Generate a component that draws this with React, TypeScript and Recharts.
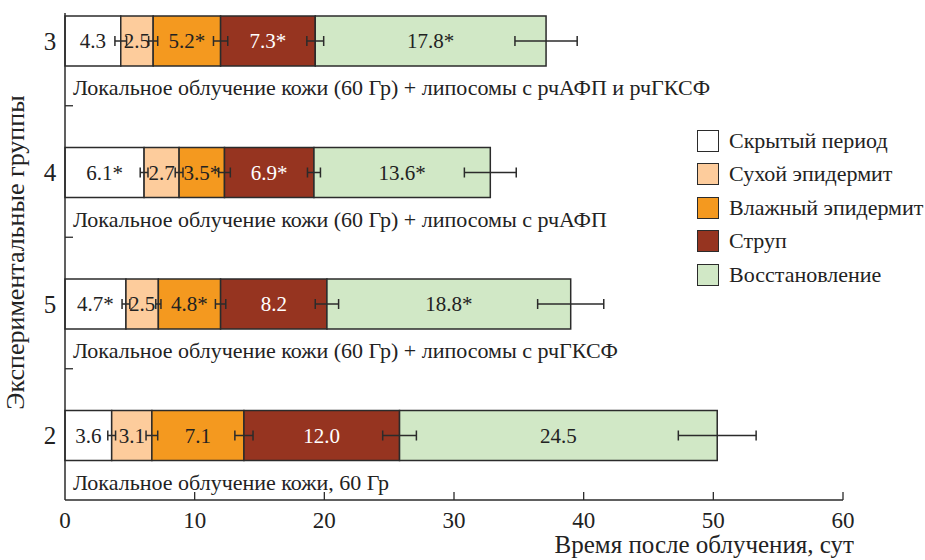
import { Bar, BarChart, ErrorBar, LabelList, Legend, XAxis, YAxis } from "recharts";

const groups = ["3", "4", "5", "2"];
const descriptions = [
  "Локальное облучение кожи (60 Гр) + липосомы с рчАФП и рчГКСФ",
  "Локальное облучение кожи (60 Гр) + липосомы с рчАФП",
  "Локальное облучение кожи (60 Гр) + липосомы с рчГКСФ",
  "Локальное облучение кожи, 60 Гр",
];

const latent = [4.3, 6.1, 4.7, 3.6];
const latentErr = [0.45, 0.3, 0.3, 0.3];
const latentSig = [false, true, true, false];

const dry = [2.5, 2.7, 2.5, 3.1];
const dryErr = [0.35, 0.3, 0.2, 0.45];
const drySig = [false, false, false, false];

const moist = [5.2, 3.5, 4.8, 7.1];
const moistErr = [0.55, 0.45, 0.4, 0.7];
const moistSig = [true, true, true, false];

const crust = [7.3, 6.9, 8.2, 12.0];
const crustErr = [0.65, 0.5, 0.9, 1.3];
const crustSig = [true, true, false, false];

const recovery = [17.8, 13.6, 18.8, 24.5];
const recoveryErr = [2.4, 2.0, 2.55, 3.0];
const recoverySig = [true, true, true, false];

const xTicks = [0, 10, 20, 30, 40, 50, 60];

const FONT = '"Liberation Serif", "DejaVu Serif", serif';
const STROKE = "#2b2b2b";

const series = [
  { key: "latent", name: "Скрытый период", color: "#ffffff", text: "#222", values: latent, errors: latentErr, sig: latentSig },
  { key: "dry", name: "Сухой эпидермит", color: "#fdcc9c", text: "#222", values: dry, errors: dryErr, sig: drySig },
  { key: "moist", name: "Влажный эпидермит", color: "#f4991f", text: "#222", values: moist, errors: moistErr, sig: moistSig },
  { key: "crust", name: "Струп", color: "#963420", text: "#ffffff", values: crust, errors: crustErr, sig: crustSig },
  { key: "recovery", name: "Восстановление", color: "#d1e8c6", text: "#222", values: recovery, errors: recoveryErr, sig: recoverySig },
];

const rows = groups.map((group, i) => {
  const row: Record<string, string | number> = { group, desc: descriptions[i] };
  series.forEach((s) => {
    row[s.key] = s.values[i];
    row[s.key + "Err"] = s.errors[i];
    row[s.key + "Label"] = s.values[i].toFixed(1) + (s.sig[i] ? "*" : "");
  });
  return row;
});

function XTick(props: any) {
  const { x, y, payload } = props;
  return (
    <g>
      {payload.value !== 0 && <line x1={x} y1={y} x2={x} y2={y - 8} stroke={STROKE} strokeWidth={1.3} />}
      <text x={x} y={y + 28} textAnchor="middle" fontSize={23} fontFamily={FONT} fill="#222">
        {payload.value}
      </text>
    </g>
  );
}

function YTick(props: any) {
  const { x, y, payload, index } = props;
  return (
    <g>
      <text x={x - 15} y={y + 9} textAnchor="middle" fontSize={25} fontFamily={FONT} fill="#222">
        {payload.value}
      </text>
      {index < groups.length - 1 && <line x1={x} y1={y + 65} x2={x + 8} y2={y + 65} stroke={STROKE} strokeWidth={1.3} />}
    </g>
  );
}

function YLabel(props: any) {
  const vb = props.viewBox;
  const cx = vb.x + 15;
  const cy = vb.y + vb.height / 2 - 4;
  return (
    <text
      transform={`translate(${cx}, ${cy}) rotate(-90)`}
      textAnchor="middle"
      dominantBaseline="central"
      fontSize={26}
      fontFamily={FONT}
      fill="#222"
    >
      Экспериментальные группы
    </text>
  );
}

function XLabel(props: any) {
  const vb = props.viewBox;
  return (
    <text x={vb.x + vb.width + 11} y={vb.y + 53} textAnchor="end" fontSize={25} fontFamily={FONT} fill="#222">
      Время после облучения, сут
    </text>
  );
}

function DescLabel(props: any) {
  const vb = props.viewBox ?? props;
  return (
    <text x={vb.x + 8} y={vb.y + vb.height + 29} fontSize={22} fontFamily={FONT} fill="#222">
      {props.value}
    </text>
  );
}

function LegendBox() {
  return (
    <div style={{ fontFamily: FONT, fontSize: 22, color: "#222", whiteSpace: "nowrap" }}>
      {series.map((s) => (
        <div key={s.key} style={{ display: "flex", alignItems: "center", height: 33.5 }}>
          <span
            style={{
              display: "inline-block",
              width: 20,
              height: 20,
              background: s.color,
              border: `1.5px solid ${STROKE}`,
              marginRight: 10,
            }}
          />
          {s.name}
        </div>
      ))}
    </div>
  );
}

export default function App() {
  return (
    <div style={{ position: "absolute", left: 0, top: 0, background: "#fff" }}>
      <BarChart
        width={925}
        height={560}
        data={rows}
        layout="vertical"
        margin={{ top: 13, right: 82, bottom: 0, left: 0 }}
      >
        <XAxis
          type="number"
          domain={[0, 60]}
          ticks={xTicks}
          height={60}
          tickSize={0}
          tickMargin={0}
          tick={<XTick />}
          axisLine={{ stroke: STROKE, strokeWidth: 1.5 }}
          label={<XLabel />}
        />
        <YAxis
          type="category"
          dataKey="group"
          width={65}
          padding={{ top: -38, bottom: -1 }}
          tickSize={0}
          tickMargin={0}
          tick={<YTick />}
          axisLine={{ stroke: STROKE, strokeWidth: 1.5 }}
          label={<YLabel />}
        />
        <Legend
          layout="horizontal"
          verticalAlign="middle"
          align="center"
          content={<LegendBox />}
          wrapperStyle={{ left: 697, top: 124, width: 228 }}
        />
        {series.map((s, si) => (
          <Bar
            key={s.key}
            dataKey={s.key}
            name={s.name}
            stackId="a"
            fill={s.color}
            stroke={STROKE}
            strokeWidth={1.5}
            barSize={50}
            isAnimationActive={false}
          >
            <LabelList
              dataKey={s.key + "Label"}
              position="center"
              fill={s.text}
              fontSize={21}
              fontFamily={FONT}
            />
            {si === 0 && <LabelList dataKey="desc" content={<DescLabel />} />}
            <ErrorBar dataKey={s.key + "Err"} direction="x" width={5} stroke={STROKE} strokeWidth={1.5} />
          </Bar>
        ))}
      </BarChart>
    </div>
  );
}
